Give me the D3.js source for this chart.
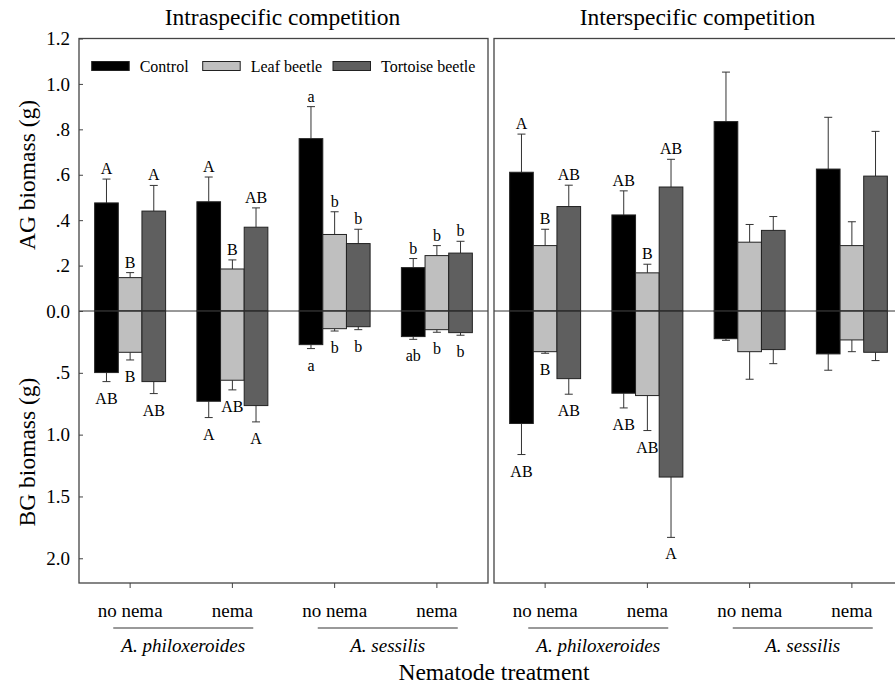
<!DOCTYPE html>
<html><head><meta charset="utf-8">
<script src="https://cdn.jsdelivr.net/npm/d3@7"></script>
<style>
body{margin:0;background:#fff}
svg{display:block}
text{font-family:"Liberation Serif","Times New Roman",Times,serif;fill:#000}
</style>
</head><body>
<svg id="chart" width="895" height="685"></svg>
<script>
// ---------------- DATA ----------------
const panelTitles = ["Intraspecific competition", "Interspecific competition"];
const nemaLabels = ["no nema", "nema", "no nema", "nema"];
const speciesLabels = ["A. philoxeroides", "A. sessilis"];
const seriesNames = ["Control", "Leaf beetle", "Tortoise beetle"];
const agTicks = [0, 0.2, 0.4, 0.6, 0.8, 1.0, 1.2];
const agTickLabels = ["0.0", ".2", ".4", ".6", ".8", "1.0", "1.2"];
const bgTicks = [0.5, 1.0, 1.5, 2.0];
const bgTickLabels = [".5", "1.0", "1.5", "2.0"];

// rows: Control, Leaf beetle, Tortoise beetle; columns: the four nematode groups
const intraAG = [[0.476, 0.481, 0.759, 0.191], [0.147, 0.185, 0.337, 0.244], [0.440, 0.369, 0.297, 0.255]];
const intraAGse = [[0.105, 0.109, 0.141, 0.040], [0.022, 0.040, 0.100, 0.044], [0.113, 0.085, 0.063, 0.052]];
const intraBG = [[0.498, 0.730, 0.272, 0.207], [0.334, 0.560, 0.143, 0.151], [0.571, 0.765, 0.127, 0.175]];
const intraBGse = [[0.073, 0.132, 0.032, 0.022], [0.062, 0.078, 0.019, 0.021], [0.097, 0.132, 0.024, 0.021]];
const interAG = [[0.611, 0.423, 0.834, 0.625], [0.288, 0.168, 0.303, 0.288], [0.460, 0.546, 0.355, 0.594]];
const interAGse = [[0.168, 0.106, 0.218, 0.228], [0.072, 0.038, 0.078, 0.105], [0.094, 0.122, 0.061, 0.197]];
const interBG = [[0.910, 0.665, 0.224, 0.347], [0.329, 0.684, 0.329, 0.234], [0.547, 1.343, 0.312, 0.334]];
const interBGse = [[0.251, 0.119, 0.013, 0.132], [0.013, 0.283, 0.223, 0.095], [0.126, 0.488, 0.114, 0.067]];

const intraAGLetters = [["A", "A", "a", "b"], ["B", "B", "b", "b"], ["A", "AB", "b", "b"]];
const intraBGLetters = [["AB", "A", "a", "ab"], ["B", "AB", "b", "b"], ["AB", "A", "b", "b"]];
const interAGLetters = [["A", "AB", "", ""], ["B", "B", "", ""], ["AB", "AB", "", ""]];
const interBGLetters = [["AB", "AB", "", ""], ["B", "AB", "", ""], ["AB", "A", "", ""]];

// ---------------- LAYOUT ----------------
const colors = ["#000000", "#bfbfbf", "#5f5f5f"];
const svg = d3.select("#chart");
const panelX = [79, 494];
const panelW = 409;
const plotTop = 38.5, zeroY = 311, plotBottom = 583;

const yAG = d3.scaleLinear().domain([0, 1.2]).range([zeroY, plotTop]);
const yBG = d3.scaleLinear().domain([0, 2.2]).range([zeroY, plotBottom]);

const panelData = [
  {ag: intraAG, agse: intraAGse, bg: intraBG, bgse: intraBGse, agL: intraAGLetters, bgL: intraBGLetters},
  {ag: interAG, agse: interAGse, bg: interBG, bgse: interBGse, agL: interAGLetters, bgL: interBGLetters}
];

panelData.forEach((pd, p) => {
  const x0 = panelX[p];
  const g = svg.append("g");
  const xg = d3.scaleBand().domain(d3.range(nemaLabels.length)).range([x0, x0 + panelW])
    .paddingInner(0.306).paddingOuter(0.153);
  const xs = d3.scaleBand().domain(d3.range(seriesNames.length)).range([0, xg.bandwidth()]);

  seriesNames.forEach((s, si) => {
    nemaLabels.forEach((n, gi) => {
      const bx = xg(gi) + xs(si);
      const bw = xs.bandwidth();
      const cx = bx + bw / 2;
      const ag = pd.ag[si][gi], agse = pd.agse[si][gi];
      const bg = pd.bg[si][gi], bgse = pd.bgse[si][gi];
      // error bars
      g.append("line").attr("x1", cx).attr("x2", cx).attr("y1", yAG(ag)).attr("y2", yAG(ag + agse))
        .attr("stroke", "#333").attr("stroke-width", 1);
      g.append("line").attr("x1", cx - 4).attr("x2", cx + 4).attr("y1", yAG(ag + agse)).attr("y2", yAG(ag + agse))
        .attr("stroke", "#333").attr("stroke-width", 1);
      g.append("line").attr("x1", cx).attr("x2", cx).attr("y1", yBG(bg)).attr("y2", yBG(bg + bgse))
        .attr("stroke", "#333").attr("stroke-width", 1);
      g.append("line").attr("x1", cx - 4).attr("x2", cx + 4).attr("y1", yBG(bg + bgse)).attr("y2", yBG(bg + bgse))
        .attr("stroke", "#333").attr("stroke-width", 1);
      // bars
      g.append("rect").attr("x", bx).attr("width", bw)
        .attr("y", yAG(ag)).attr("height", yAG(0) - yAG(ag))
        .attr("fill", colors[si]).attr("stroke", "#222").attr("stroke-width", 1);
      g.append("rect").attr("x", bx).attr("width", bw)
        .attr("y", yBG(0)).attr("height", yBG(bg) - yBG(0))
        .attr("fill", colors[si]).attr("stroke", "#222").attr("stroke-width", 1);
      // letters
      if (pd.agL[si][gi]) {
        g.append("text").attr("x", cx).attr("y", yAG(ag + agse) - 5).attr("text-anchor", "middle")
          .attr("font-size", 16).text(pd.agL[si][gi]);
      }
      if (pd.bgL[si][gi]) {
        g.append("text").attr("x", cx).attr("y", yBG(bg + bgse) + 22).attr("text-anchor", "middle")
          .attr("font-size", 16).text(pd.bgL[si][gi]);
      }
    });
  });

  // zero line
  g.append("line").attr("x1", x0).attr("x2", x0 + panelW).attr("y1", zeroY).attr("y2", zeroY)
    .attr("stroke", "#333").attr("stroke-width", 1);

  // frame
  g.append("rect").attr("x", x0).attr("y", plotTop).attr("width", panelW).attr("height", plotBottom - plotTop)
    .attr("fill", "none").attr("stroke", "#444").attr("stroke-width", 1.3);

  // x axis
  const xAxis = d3.axisBottom(xg).tickFormat("").tickSizeInner(5).tickSizeOuter(0);
  const xa = g.append("g").attr("transform", `translate(0,${plotBottom})`).call(xAxis);
  xa.select(".domain").remove();
  xa.selectAll(".tick line").attr("stroke", "#444");
  nemaLabels.forEach((n, gi) => {
    g.append("text").attr("x", xg(gi) + xg.bandwidth() / 2).attr("y", 617)
      .attr("text-anchor", "middle").attr("font-size", 19).text(n);
  });
  speciesLabels.forEach((s, k) => {
    const c = (xg(2 * k) + xg(2 * k + 1) + xg.bandwidth()) / 2 + 2;
    g.append("line").attr("x1", c - 70).attr("x2", c + 70).attr("y1", 628).attr("y2", 628)
      .attr("stroke", "#999").attr("stroke-width", 2);
    g.append("text").attr("x", c).attr("y", 652).attr("text-anchor", "middle")
      .attr("font-size", 19).attr("font-style", "italic").text(s);
  });

  // title
  svg.append("text").attr("x", x0 + panelW / 2 - 1).attr("y", 25).attr("text-anchor", "middle")
    .attr("font-size", 23.5).text(panelTitles[p]);
});

// y axes on left panel
const agAxis = d3.axisLeft(yAG).tickValues(agTicks).tickFormat((d, i) => agTickLabels[i])
  .tickSizeInner(-4).tickSizeOuter(0).tickPadding(9);
const aga = svg.append("g").attr("transform", `translate(${panelX[0]},0)`).call(agAxis);
const bgAxis = d3.axisLeft(yBG).tickValues(bgTicks).tickFormat((d, i) => bgTickLabels[i])
  .tickSizeInner(-4).tickSizeOuter(0).tickPadding(9);
const bga = svg.append("g").attr("transform", `translate(${panelX[0]},0)`).call(bgAxis);
[aga, bga].forEach(a => {
  a.select(".domain").remove();
  a.selectAll(".tick line").attr("stroke", "#444");
  a.selectAll(".tick text").attr("font-size", 19).attr("font-family", "'Liberation Serif', serif").attr("fill", "#000");
});

svg.append("text").attr("transform", "translate(35,175) rotate(-90)").attr("text-anchor", "middle")
  .attr("font-size", 23.5).text("AG biomass (g)");
svg.append("text").attr("transform", "translate(35,452) rotate(-90)").attr("text-anchor", "middle")
  .attr("font-size", 23.5).text("BG biomass (g)");
svg.append("text").attr("x", 494).attr("y", 680).attr("text-anchor", "middle")
  .attr("font-size", 23.5).text("Nematode treatment");

// legend
const legendX = [91.7, 202.7, 333];
seriesNames.forEach((s, i) => {
  svg.append("rect").attr("x", legendX[i]).attr("y", 61.5).attr("width", 37.5).attr("height", 9)
    .attr("fill", colors[i]).attr("stroke", "#222").attr("stroke-width", 1);
  svg.append("text").attr("x", legendX[i] + 48).attr("y", 71.5).attr("font-size", 16).text(s);
});
</script>
</body></html>
